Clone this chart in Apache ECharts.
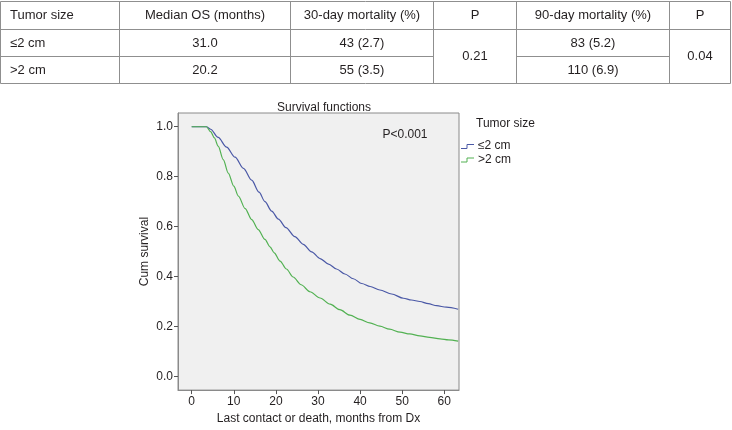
<!DOCTYPE html>
<html>
<head>
<meta charset="utf-8">
<script src="https://cdn.jsdelivr.net/npm/echarts@6/dist/echarts.min.js"></script>
<style>
html,body{margin:0;padding:0;background:#fff;}
#chart{width:732px;height:430px;}
</style>
</head>
<body>
<div id="chart"></div>
<script>
// ---- Table data ----
var tableHeaders = ['Tumor size', 'Median OS (months)', '30-day mortality (%)', 'P', '90-day mortality (%)', 'P'];
var tableGroups = ['\u22642 cm', '>2 cm'];
var medianOS = ['31.0', '20.2'];
var mort30 = ['43 (2.7)', '55 (3.5)'];
var p30 = '0.21';
var mort90 = ['83 (5.2)', '110 (6.9)'];
var p90 = '0.04';

// ---- Survival curve data (months, cumulative survival) ----
var seriesNames = ['\u22642 cm', '>2 cm'];
var monthsLe2 = [0, 3.5, 4.5, 6.3, 8.3, 10.3, 12.3, 14.25, 16, 17.4, 19, 20.6, 22.4, 24.5, 26.5, 28.5, 30.5, 32.5, 34.4, 36.4, 38.4, 40.4, 42.4, 44.7, 47.5, 50.3, 52.2, 54.2, 56.2, 58.2, 60.5, 63.3];
var survLe2  = [1.0, 1.0, 0.99, 0.957, 0.918, 0.878, 0.833, 0.786, 0.738, 0.700, 0.662, 0.630, 0.596, 0.560, 0.529, 0.499, 0.472, 0.450, 0.430, 0.410, 0.391, 0.372, 0.360, 0.346, 0.330, 0.313, 0.306, 0.300, 0.291, 0.283, 0.277, 0.269];
var monthsGt2 = [0, 3.5, 4.5, 5.4, 6.3, 7.5, 8.7, 10, 11.1, 12.7, 14.25, 15.8, 17.4, 18.6, 19.6, 21, 22.5, 24.1, 26, 28.1, 30.5, 32.9, 35.2, 37.6, 40, 42.3, 44.7, 47, 49.5, 51.8, 54.2, 56.5, 59, 61, 63.3];
var survGt2  = [1.0, 1.0, 0.98, 0.955, 0.922, 0.868, 0.814, 0.762, 0.722, 0.672, 0.628, 0.588, 0.549, 0.519, 0.495, 0.462, 0.430, 0.398, 0.367, 0.339, 0.314, 0.289, 0.267, 0.245, 0.228, 0.214, 0.201, 0.189, 0.177, 0.170, 0.162, 0.156, 0.150, 0.146, 0.141];

var xTicks = [0, 10, 20, 30, 40, 50, 60];
var yTicks = [0, 0.2, 0.4, 0.6, 0.8, 1.0];

function pairs(xs, ys){ return xs.map(function(x,i){ return [x, ys[i]]; }); }

// ---- Table layout (graphic) ----
var FONT = 'Liberation Sans, Arial, Helvetica, sans-serif';
var colX = [0.5, 119.5, 290.5, 433.5, 516.5, 669.5, 730.5];
var rowY = [1.5, 29.5, 56.5, 83.5];
var lineColor = '#8f8f8f';
var textColor = '#231f20';
var g = [];
function hline(x1, x2, y){ g.push({type:'line', shape:{x1:x1,y1:y,x2:x2,y2:y}, style:{stroke:lineColor, lineWidth:1}, silent:true}); }
function vline(x, y1, y2){ g.push({type:'line', shape:{x1:x,y1:y1,x2:x,y2:y2}, style:{stroke:lineColor, lineWidth:1}, silent:true}); }
function txt(s, x, y, align, size){ g.push({type:'text', x:x, y:y, style:{text:s, fill:textColor, font:(size||13)+'px '+FONT, align:align||'center', verticalAlign:'middle'}, silent:true}); }

hline(colX[0], colX[6], rowY[0]);
hline(colX[0], colX[6], rowY[1]);
hline(colX[0], colX[3], rowY[2]);
hline(colX[4], colX[5], rowY[2]);
hline(colX[0], colX[6], rowY[3]);
colX.forEach(function(x){ vline(x, rowY[0], rowY[3]); });

function cx(i){ return (colX[i] + colX[i+1]) / 2; }
function cy(r){ return (rowY[r] + rowY[r+1]) / 2; }
tableHeaders.forEach(function(h, i){ if(i===0){ txt(h, 10, cy(0), 'left'); } else { txt(h, cx(i), cy(0)); } });
tableGroups.forEach(function(gname, r){
  txt(gname, 10, cy(r+1), 'left');
  txt(medianOS[r], cx(1), cy(r+1));
  txt(mort30[r], cx(2), cy(r+1));
  txt(mort90[r], cx(4), cy(r+1));
});
txt(p30, cx(3), (rowY[1]+rowY[3])/2);
txt(p90, cx(5), (rowY[1]+rowY[3])/2);

// ---- Chart annotations & legend ----
var colors = ['#4a58a6', '#52b152'];
txt('P<0.001', 405, 135, 'center', 12);
txt('Tumor size', 476, 124, 'left', 12);
txt(seriesNames[0], 478, 146, 'left', 12);
txt(seriesNames[1], 478, 159.5, 'left', 12);
g.push({type:'polyline', shape:{points:[[461,148.5],[467,148.5],[467,144.5],[474,144.5]]}, style:{stroke:colors[0], fill:null, lineWidth:1}, silent:true});
g.push({type:'polyline', shape:{points:[[461,162],[467,162],[467,158],[474,158]]}, style:{stroke:colors[1], fill:null, lineWidth:1}, silent:true});

var axisTextStyle = {color:'#231f20', fontSize:12, fontFamily:FONT};

var option = {
  animation: false,
  backgroundColor: '#ffffff',
  title: {
    text: 'Survival functions',
    left: 319, top: 97, textAlign: 'center',
    textStyle: {fontSize:12, fontWeight:'normal', color:'#231f20', fontFamily:FONT}
  },
  grid: {
    left: 178, right: 273, top: 113, bottom: 35,
    show: true, backgroundColor: '#f0f0f0', borderColor: '#8a8a8a', borderWidth: 1,
    containLabel: false
  },
  xAxis: {
    type: 'value', min: -3.25, max: 63.5,
    name: 'Last contact or death, months from Dx',
    nameLocation: 'middle', nameGap: 21,
    nameTextStyle: axisTextStyle,
    axisLine: {show:true, onZero:false, lineStyle:{color:'#8a8a8a', width:1}},
    axisTick: {show:true, length:4, customValues: xTicks, lineStyle:{color:'#555'}},
    axisLabel: {customValues: xTicks, margin:6, color:'#231f20', fontSize:12, fontFamily:FONT},
    splitLine: {show:false}
  },
  yAxis: {
    type: 'value', min: -0.055, max: 1.055,
    name: 'Cum survival',
    nameLocation: 'middle', nameGap: 27, nameRotate: 90,
    nameTextStyle: axisTextStyle,
    axisLine: {show:true, onZero:false, lineStyle:{color:'#8a8a8a', width:1}},
    axisTick: {show:true, length:4, customValues: yTicks, lineStyle:{color:'#555'}},
    axisLabel: {customValues: yTicks, margin:5, color:'#231f20', fontSize:12, fontFamily:FONT,
      formatter: function(v){ return Number(v).toFixed(1); }},
    splitLine: {show:false}
  },
  series: [
    {name: seriesNames[0], type:'line', data: pairs(monthsLe2, survLe2), showSymbol:false, symbol:'none',
     smooth: 0.3, smoothMonotone: 'x',
     lineStyle:{color:colors[0], width:1.2}, itemStyle:{color:colors[0]}, silent:true},
    {name: seriesNames[1], type:'line', data: pairs(monthsGt2, survGt2), showSymbol:false, symbol:'none',
     smooth: 0.3, smoothMonotone: 'x',
     lineStyle:{color:colors[1], width:1.2}, itemStyle:{color:colors[1]}, silent:true}
  ],
  graphic: g
};

var chart = echarts.init(document.getElementById('chart'), null, {renderer:'canvas'});
chart.setOption(option);
</script>
</body>
</html>
